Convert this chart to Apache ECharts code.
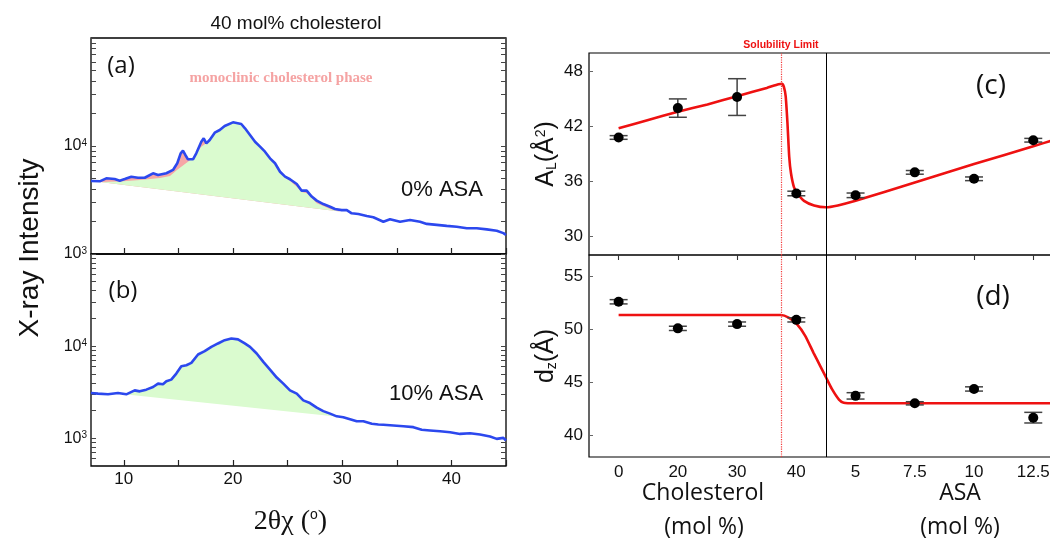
<!DOCTYPE html>
<html><head><meta charset="utf-8">
<script src="https://cdn.jsdelivr.net/npm/echarts@6/dist/echarts.min.js"></script>
<style>html,body{margin:0;padding:0;background:#fff}#c{width:1050px;height:540px}</style>
</head><body><div id="c"></div>
<script>
// ---------- Panel (a): 40 mol% cholesterol, 0% ASA ----------
const specAx = [7.0,7.18,7.8,8.4,9.17,9.63,10.09,10.69,11.3,11.92,12.68,13.14,13.9,14.51,14.9,15.21,15.42,15.64,15.88,16.34,16.64,17.1,17.32,17.56,17.87,18.33,18.79,19.24,20.0,20.76,21.1,21.56,22.02,22.48,22.93,23.39,23.85,24.31,24.77,25.22,25.84,26.29,26.75,27.21,27.67,28.27,28.89,29.34,29.96,30.42,30.87,31.48,32.25,32.85,33.77,34.38,35.3,36.21,37.13,37.74,38.66,39.57,40.49,41.41,42.32,43.24,44.15,44.76,45.0];
const specAy = [4740,4840,4710,5020,4940,4770,4940,5200,5080,5080,5590,5380,5590,6000,6920,8560,9040,8260,7530,7530,8560,10960,11780,10590,11370,13280,14060,15310,16560,15990,14590,12650,10960,9860,8860,7690,6920,5780,5200,4920,4450,3860,3860,3400,3120,2900,2740,2610,2550,2550,2380,2345,2250,2190,1990,2100,1990,2065,1990,1900,1860,1820,1790,1730,1730,1690,1640,1560,1500];
// smooth lipid-peak envelope (upper edge of green area)
const lipAx = [7.82,9.66,11.49,13.32,14.23,14.87,15.88,16.52,17.07,17.71,18.36,18.79,19.24,20.0,20.76,21.1,21.56,22.02,22.48,22.93,23.39,23.85,24.31,24.77,25.22,25.84,26.29,26.75,27.21,27.67,28.27,28.89,29.8];
const lipAy = [4640,4700,4840,5060,5270,6000,7160,8070,9790,10900,12900,14060,15310,16560,15990,14590,12650,10960,9860,8860,7690,6920,5780,5200,4740,4200,3750,3650,3300,2950,2780,2610,2480];
const baseAx = [7.82, 29.8];
const baseAy = [4640, 2480];

// ---------- Panel (b): 40 mol% cholesterol, 10% ASA ----------
const specBx = [7.0,7.64,8.56,9.47,10.23,11.0,11.46,12.06,12.68,13.14,13.59,13.9,14.35,14.81,15.27,15.73,16.19,16.8,17.41,18.02,18.63,19.24,19.85,20.46,21.08,21.56,22.17,22.78,23.39,24.01,24.61,25.22,25.84,26.44,27.05,27.67,28.27,28.89,29.5,30.1,30.72,31.33,31.94,32.71,33.31,33.77,34.69,35.6,36.52,37.28,38.04,38.96,39.88,40.79,41.71,42.62,43.54,44.15,44.76,45.0];
const specBy = [3100,3050,3000,3100,3000,3310,3230,3370,3600,3920,3850,4150,4330,5040,6050,6210,6580,8110,8810,9820,10690,11610,12120,11830,10690,9820,8320,6740,5570,4560,3920,3310,3050,2580,2410,2150,1970,1850,1730,1690,1610,1530,1530,1435,1410,1400,1375,1350,1320,1235,1215,1190,1160,1115,1135,1100,1045,985,1010,945];
const baseBx = [10.05, 29.4];
const baseBy = [3000, 1720];

const specTicks = [10,15,20,25,30,35,40,45];
const specLabels = [10,20,30,40];
const decadeSteps = [1,2,3,4,5,6,7,8,9];

// ---------- Panels (c) and (d) ----------
const xLabels = ['0','20','30','40','5','7.5','10','12.5'];
const alVals = [40.8, 44.0, 45.2, 34.7, 34.5, 37.0, 36.3, 40.5];
const alErr  = [0.2, 1.0, 2.0, 0.25, 0.25, 0.2, 0.2, 0.2];
const dzVals = [52.6, 50.1, 50.5, 50.9, 43.75, 43.05, 44.4, 41.7];
const dzErr  = [0.2, 0.2, 0.2, 0.2, 0.3, 0.15, 0.2, 0.5];
const fitAlX = [0,0.5,1,1.5,2,2.5,2.7,2.76,2.79,2.82,2.85,2.88,2.91,2.96,3.02,3.13,3.3,3.5,3.7,4.0,5,6,7,7.36];
const fitAlY = [41.8,42.7,43.6,44.4,45.3,46.2,46.6,46.65,46.3,45.3,42.4,38.7,36.9,35.4,34.7,33.9,33.4,33.2,33.4,33.9,35.9,37.9,39.85,40.55];
const fitDzX = [0,1,2,2.74,2.87,3.01,3.15,3.29,3.4,3.5,3.6,3.72,3.8,4,5,6,7,7.36];
const fitDzY = [51.35,51.35,51.35,51.35,51.1,50.5,49.4,47.8,46.6,45.5,44.4,43.4,43.1,43.05,43.05,43.05,43.05,43.05];
const alTicks = [30,36,42,48];
const dzTicks = [40,45,50,55];
const catTicks = [0,1,2,3,4,5,6,7];
const solLimit = 2.74;
const divider = 3.5;

// ---------- helpers ----------
const zip = (xs, ys) => xs.map((x, i) => [x, ys[i]]);
function logTicks(lo, hi) {
  const out = [];
  for (let d = 100; d <= 100000; d *= 10) decadeSteps.forEach(s => { const v = s * d; if (v >= lo && v <= hi) out.push(Math.log10(v)); });
  return out;
}
function polySeries(points, color, xi, yi, z) {
  return {
    type: 'custom', xAxisIndex: xi, yAxisIndex: yi, z: z, clip: true, silent: true,
    data: [points[0]],
    renderItem: (params, api) => ({
      type: 'polygon',
      shape: { points: points.map(p => api.coord(p)) },
      style: { fill: color, stroke: null }
    })
  };
}
function errSeries(vals, errs, xi, yi) {
  return {
    type: 'custom', xAxisIndex: xi, yAxisIndex: yi, z: 4, silent: true,
    data: vals.map((v, i) => [i, v, errs[i]]),
    encode: { x: 0, y: 1 },
    renderItem: (params, api) => {
      const x = api.value(0), y = api.value(1), e = api.value(2);
      const hi = api.coord([x, y + e]), lo = api.coord([x, y - e]);
      const w = 9;
      return { type: 'group', children: [
        { type: 'line', shape: { x1: hi[0], y1: hi[1], x2: lo[0], y2: lo[1] }, style: { stroke: '#111', lineWidth: 1.2 } },
        { type: 'line', shape: { x1: hi[0] - w, y1: hi[1], x2: hi[0] + w, y2: hi[1] }, style: { stroke: '#444', lineWidth: 1.5 } },
        { type: 'line', shape: { x1: lo[0] - w, y1: lo[1], x2: lo[0] + w, y2: lo[1] }, style: { stroke: '#444', lineWidth: 1.5 } }
      ]};
    }
  };
}
const within = (xs, ys, a, b) => zip(xs, ys).filter(p => p[0] > a && p[0] < b);

const pinkA = [[baseAx[0], baseAy[0]]].concat(within(specAx, specAy, baseAx[0], baseAx[1])).concat([[baseAx[1], baseAy[1]]]);
const greenA = zip(lipAx, lipAy);
const greenB = [[baseBx[0], baseBy[0]]].concat(within(specBx, specBy, baseBx[0], baseBx[1])).concat([[baseBx[1], baseBy[1]]]);

const tickFont = { fontFamily: 'Liberation Sans', fontSize: 17, color: '#111' };
const hidden = () => ({ axisLine: { show: false, onZero: false }, splitLine: { show: false }, axisLabel: { show: false }, axisTick: { show: false } });
const ax = (o) => Object.assign(hidden(), o);
const gridBase = { show: true, borderColor: '#000', borderWidth: 1.3, backgroundColor: 'transparent', containLabel: false, outerBoundsMode: 'none' };

const logLabel = {
  show: true, margin: 4,
  formatter: v => (Math.abs(v - 1000) < 1 ? '{m|10}{s|3}' : (Math.abs(v - 10000) < 1 ? '{m|10}{s|4}' : '')),
  rich: {
    m: { fontFamily: 'Liberation Sans', fontSize: 16, color: '#111' },
    s: { fontFamily: 'Liberation Sans', fontSize: 10, color: '#111', verticalAlign: 'top', padding: [0, 0, 6, 0] }
  }
};
function tickAxis(grid, pos, lo, hi, ticks) {
  return ax({
    gridIndex: grid, type: 'value', position: pos, min: lo, max: hi,
    axisTick: { show: true, inside: true, length: 5, customValues: ticks, lineStyle: { color: '#444', width: 1 } }
  });
}

const option = {
  animation: false,
  backgroundColor: '#fff',
  grid: [
    Object.assign({}, gridBase, { left: 91, top: 38, width: 415, height: 216 }),
    Object.assign({}, gridBase, { left: 91, top: 254, width: 415, height: 212 }),
    Object.assign({}, gridBase, { left: 589, top: 53, width: 465, height: 202, borderWidth: 1.2 }),
    Object.assign({}, gridBase, { left: 589, top: 255, width: 465, height: 202, borderWidth: 1.2 })
  ],
  xAxis: [
    ax({ gridIndex: 0, type: 'value', min: 7, max: 45,
      axisTick: { show: true, inside: true, length: 6, customValues: specTicks, lineStyle: { color: '#222', width: 1.2 } } }),
    ax({ gridIndex: 1, type: 'value', min: 7, max: 45,
      axisTick: { show: true, inside: true, length: 6, customValues: specTicks, lineStyle: { color: '#222', width: 1.2 } },
      axisLabel: Object.assign({ show: true, margin: 5, customValues: specLabels }, tickFont),
      name: '{g|2θχ (}{o|o}{g|)}', nameLocation: 'middle', nameGap: 42,
      nameTextStyle: { padding: [0, 16, 0, 0], rich: {
        g: { fontFamily: 'Liberation Serif', fontSize: 28, color: '#111' },
        o: { fontFamily: 'Liberation Sans', fontSize: 14, color: '#111', verticalAlign: 'top', padding: [0, 0, 14, 0] } } } }),
    ax({ gridIndex: 2, type: 'value', min: -0.5, max: 7.35 }),
    ax({ gridIndex: 3, type: 'value', min: -0.5, max: 7.35,
      axisLabel: Object.assign({ show: true, margin: 7, customValues: catTicks, formatter: v => xLabels[Math.round(v)] }, tickFont) }),
    ax({ gridIndex: 3, type: 'value', position: 'top', min: -0.5, max: 7.35,
      axisTick: { show: true, inside: true, length: 5, customValues: catTicks, lineStyle: { color: '#333', width: 1.1 } } })
  ],
  yAxis: [
    ax({ gridIndex: 0, type: 'log', min: 1000, max: 100000, axisLabel: logLabel }),
    tickAxis(0, 'left', 3, 5, logTicks(1000, 100000)),
    tickAxis(0, 'right', 3, 5, logTicks(1000, 100000)),
    ax({ gridIndex: 1, type: 'log', min: 500, max: 100000, axisLabel: logLabel }),
    tickAxis(1, 'left', Math.log10(500), 5, logTicks(500, 100000)),
    tickAxis(1, 'right', Math.log10(500), 5, logTicks(500, 100000)),
    ax({ gridIndex: 2, type: 'value', min: 28, max: 50,
      axisLabel: Object.assign({ show: true, margin: 6, customValues: alTicks }, tickFont),
      axisTick: { show: true, inside: true, length: 4, customValues: alTicks, lineStyle: { color: '#666' } },
      name: '{m|A}{sub|L}{m|(Å}{sup|2}{m|)}', nameLocation: 'middle', nameRotate: 90, nameGap: 30,
      nameTextStyle: { rich: {
        m: { fontFamily: 'Liberation Sans', fontSize: 25, color: '#111' },
        sub: { fontFamily: 'Liberation Sans', fontSize: 14, color: '#111', verticalAlign: 'bottom', padding: [10, 0, 0, 0] },
        sup: { fontFamily: 'Liberation Sans', fontSize: 14, color: '#111', verticalAlign: 'top', padding: [0, 0, 10, 0] } } } }),
    ax({ gridIndex: 3, type: 'value', min: 38, max: 57,
      axisLabel: Object.assign({ show: true, margin: 6, customValues: dzTicks }, tickFont),
      axisTick: { show: true, inside: true, length: 4, customValues: dzTicks, lineStyle: { color: '#666' } },
      name: '{m|d}{sub|z}{m|(Å)}', nameLocation: 'middle', nameRotate: 90, nameGap: 30,
      nameTextStyle: { rich: {
        m: { fontFamily: 'Liberation Sans', fontSize: 25, color: '#111' },
        sub: { fontFamily: 'Liberation Sans', fontSize: 14, color: '#111', verticalAlign: 'bottom', padding: [10, 0, 0, 0] } } } })
  ],
  series: [
    polySeries(pinkA, '#f6a6a6', 0, 0, 1),
    polySeries(greenA, '#dafbcf', 0, 0, 2),
    { type: 'line', xAxisIndex: 0, yAxisIndex: 0, z: 3, data: zip(specAx, specAy), showSymbol: false, silent: true,
      lineStyle: { color: '#2c48ee', width: 2.6 } },
    polySeries(greenB, '#dafbcf', 1, 3, 2),
    { type: 'line', xAxisIndex: 1, yAxisIndex: 3, z: 3, data: zip(specBx, specBy), showSymbol: false, silent: true,
      lineStyle: { color: '#2c48ee', width: 2.6 } },

    errSeries(alVals, alErr, 2, 6),
    { type: 'line', xAxisIndex: 2, yAxisIndex: 6, z: 3, data: zip(fitAlX, fitAlY), showSymbol: false, smooth: 0.2, silent: true,
      lineStyle: { color: '#ee1111', width: 2.6 },
      markLine: { silent: true, symbol: ['none', 'none'], animation: false, data: [
        { xAxis: divider, lineStyle: { color: '#000', type: 'solid', width: 1 }, label: { show: false } },
        { xAxis: solLimit, lineStyle: { color: '#f23a3a', type: 'dotted', width: 1.2 },
          label: { show: true, position: 'end', distance: 2, formatter: 'Solubility Limit', color: '#ee1111',
                   fontFamily: 'Liberation Sans', fontWeight: 'bold', fontSize: 10.5 } }
      ] } },
    { type: 'scatter', xAxisIndex: 2, yAxisIndex: 6, z: 5, data: alVals.map((v, i) => [i, v]), symbolSize: 10, silent: true,
      itemStyle: { color: '#000', opacity: 1, borderWidth: 0 } },

    errSeries(dzVals, dzErr, 3, 7),
    { type: 'line', xAxisIndex: 3, yAxisIndex: 7, z: 3, data: zip(fitDzX, fitDzY), showSymbol: false, smooth: 0.2, silent: true,
      lineStyle: { color: '#ee1111', width: 2.6 },
      markLine: { silent: true, symbol: ['none', 'none'], animation: false, data: [
        { xAxis: divider, lineStyle: { color: '#000', type: 'solid', width: 1 }, label: { show: false } },
        { xAxis: solLimit, lineStyle: { color: '#f23a3a', type: 'dotted', width: 1.2 }, label: { show: false } }
      ] } },
    { type: 'scatter', xAxisIndex: 3, yAxisIndex: 7, z: 5, data: dzVals.map((v, i) => [i, v]), symbolSize: 10, silent: true,
      itemStyle: { color: '#000', opacity: 1, borderWidth: 0 } }
  ],
  graphic: [
    { type: 'text', x: 296, y: 24, style: { text: '40 mol% cholesterol', font: '19px "Liberation Sans"', fill: '#111', align: 'center', verticalAlign: 'middle' } },
    { type: 'text', x: 30, y: 248, rotation: Math.PI / 2, style: { text: 'X-ray Intensity', font: '28px "Liberation Sans"', fill: '#111', align: 'center', verticalAlign: 'middle' } },
    { type: 'text', x: 121, y: 66, style: { text: '(a)', font: '24px "Open Sans"', fill: '#111', align: 'center', verticalAlign: 'middle' } },
    { type: 'text', x: 123, y: 291, style: { text: '(b)', font: '24px "Open Sans"', fill: '#111', align: 'center', verticalAlign: 'middle' } },
    { type: 'text', x: 442, y: 190, style: { text: '0% ASA', font: '22px "Liberation Sans"', fill: '#111', align: 'center', verticalAlign: 'middle' } },
    { type: 'text', x: 436, y: 394, style: { text: '10% ASA', font: '22px "Liberation Sans"', fill: '#111', align: 'center', verticalAlign: 'middle' } },
    { type: 'text', x: 281, y: 78, style: { text: 'monoclinic cholesterol phase', font: 'bold 15px "Liberation Serif"', fill: '#f5a3a3', align: 'center', verticalAlign: 'middle' } },
    { type: 'text', x: 232, y: 178, style: { text: 'lipid peak', font: 'bold 14px "Liberation Serif"', fill: '#1f7a1f', align: 'center', verticalAlign: 'middle' } },
    { type: 'text', x: 991, y: 86, style: { text: '(c)', font: '28px "Open Sans"', fill: '#111', align: 'center', verticalAlign: 'middle' } },
    { type: 'text', x: 993, y: 297, style: { text: '(d)', font: '28px "Open Sans"', fill: '#111', align: 'center', verticalAlign: 'middle' } },
    { type: 'text', x: 703, y: 493, style: { text: 'Cholesterol', font: '23px "Open Sans"', fill: '#111', align: 'center', verticalAlign: 'middle' } },
    { type: 'text', x: 704, y: 527, style: { text: '(mol %)', font: '23px "Open Sans"', fill: '#111', align: 'center', verticalAlign: 'middle' } },
    { type: 'text', x: 960, y: 493, style: { text: 'ASA', font: '23px "Open Sans"', fill: '#111', align: 'center', verticalAlign: 'middle' } },
    { type: 'text', x: 960, y: 527, style: { text: '(mol %)', font: '23px "Open Sans"', fill: '#111', align: 'center', verticalAlign: 'middle' } }
  ]
};
const chart = echarts.init(document.getElementById('c'), null, { renderer: 'canvas' });
chart.setOption(option);
</script></body></html>
